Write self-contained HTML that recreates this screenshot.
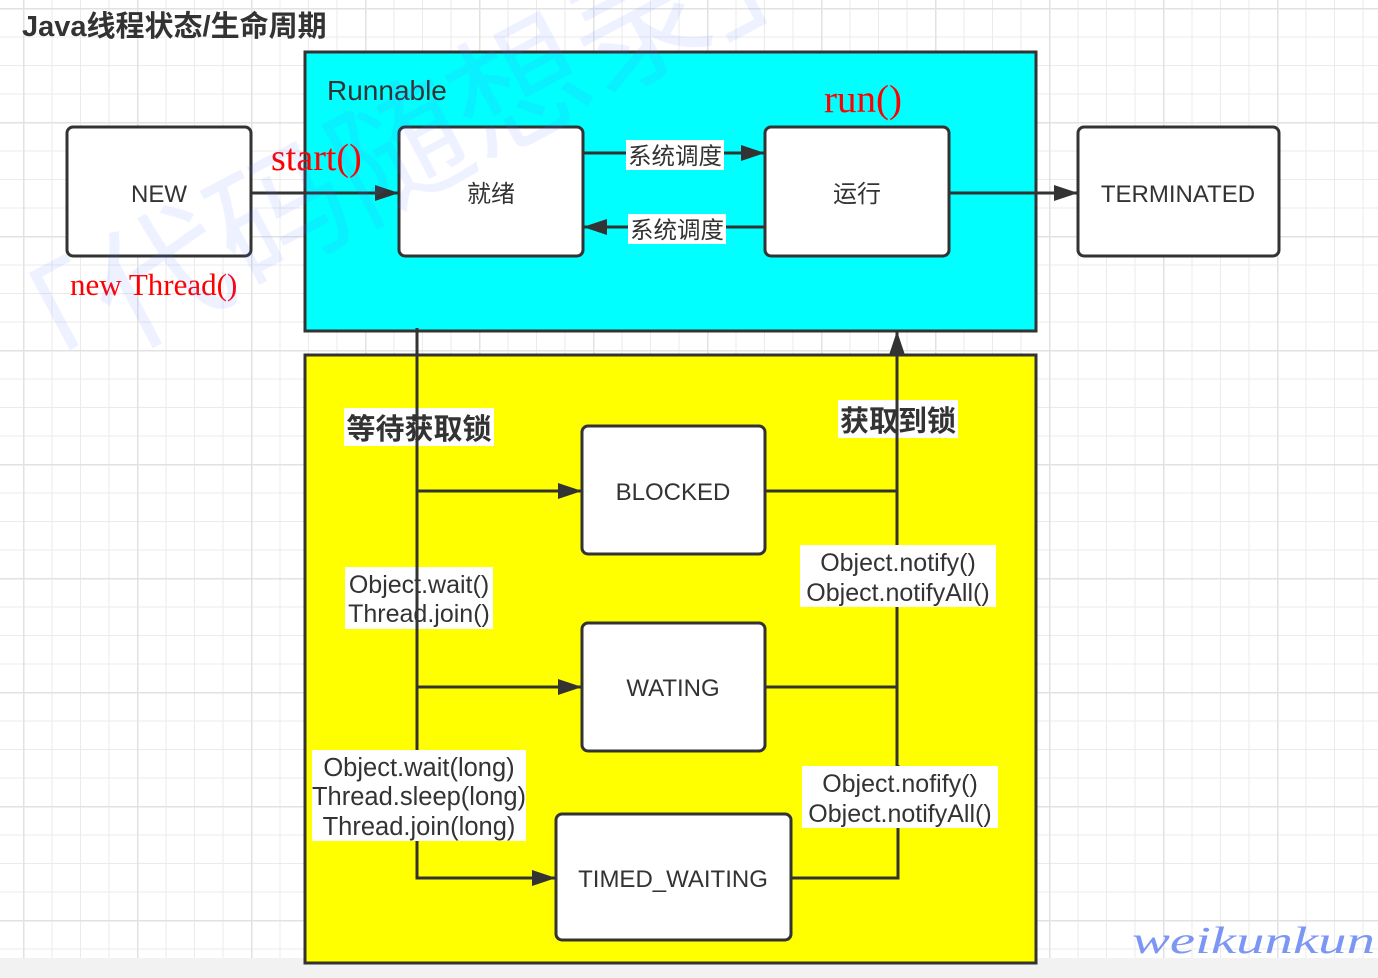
<!DOCTYPE html>
<html><head><meta charset="utf-8"><style>
html,body{margin:0;padding:0;background:#fff;}
svg{display:block;}
</style></head><body>
<svg width="1378" height="978" viewBox="0 0 1378 978" xmlns="http://www.w3.org/2000/svg">
<defs>
<pattern id="g" x="23" y="8" width="28.5" height="28.5" patternUnits="userSpaceOnUse">
<path d="M0 0H28.5M0 0V28.5" stroke="#ebebeb" stroke-width="2" fill="none"/>
</pattern>
<pattern id="g4" x="23" y="8" width="114" height="114" patternUnits="userSpaceOnUse">
<path d="M0 0H114M0 0V114" stroke="#e2e2e2" stroke-width="3" fill="none"/>
</pattern>
<marker id="a" markerWidth="24" markerHeight="16" refX="24" refY="8" orient="auto" markerUnits="userSpaceOnUse" viewBox="0 0 24 16">
<path d="M0 0L24 8L0 16z" fill="#333"/>
</marker>
</defs>
<rect width="1378" height="978" fill="#fff"/>
<rect width="1378" height="958" fill="url(#g)"/>
<rect width="1378" height="958" fill="url(#g4)"/>
<rect y="958" width="1378" height="20" fill="#f2f2f2"/>

<g font-family="Liberation Sans, Noto Sans CJK SC, sans-serif" fill="#333">
<text x="22" y="36" font-size="29" font-weight="bold">Java线程状态/生命周期</text>

<rect x="305" y="52" width="731" height="279" fill="#00ffff" stroke="#333" stroke-width="3"/>
<rect x="305" y="355" width="731" height="608" fill="#ffff00" stroke="#333" stroke-width="3"/>
<text x="327" y="100" font-size="28">Runnable</text>

<g fill="#fff" stroke="#333" stroke-width="3">
<rect x="67" y="127" width="184" height="129" rx="6"/>
<rect x="399" y="127" width="184" height="129" rx="6"/>
<rect x="765" y="127" width="184" height="129" rx="6"/>
<rect x="1078" y="127" width="201" height="129" rx="6"/>
<rect x="582" y="426" width="183" height="128" rx="6"/>
<rect x="582" y="623" width="183" height="128" rx="6"/>
<rect x="556" y="814" width="235" height="126" rx="6"/>
</g>
<g font-size="24" text-anchor="middle">
<text x="159" y="202">NEW</text>
<text x="491" y="202">就绪</text>
<text x="857" y="202">运行</text>
<text x="1178" y="202">TERMINATED</text>
<text x="673" y="500">BLOCKED</text>
<text x="673" y="696">WATING</text>
<text x="673" y="887">TIMED_WAITING</text>
</g>

<g fill="#fff">
<rect x="344" y="408" width="150" height="38"/>
<rect x="838" y="400" width="120" height="38"/>
<rect x="345" y="567" width="148" height="62"/>
</g>
<g text-anchor="middle">
<text x="419" y="439" font-size="29" font-weight="bold">等待获取锁</text>
<text x="898" y="431" font-size="29" font-weight="bold">获取到锁</text>
<text x="419" y="593" font-size="25">Object.wait()</text>
<text x="419" y="622" font-size="25">Thread.join()</text>
</g>

<g stroke="#333" stroke-width="3" fill="none">
<line x1="251" y1="193" x2="399" y2="193" marker-end="url(#a)"/>
<line x1="583" y1="153" x2="765" y2="153" marker-end="url(#a)"/>
<line x1="765" y1="227" x2="583" y2="227" marker-end="url(#a)"/>
<line x1="949" y1="193" x2="1078" y2="193" marker-end="url(#a)"/>
<polyline points="417,328 417,878 556,878" marker-end="url(#a)"/>
<line x1="417" y1="491" x2="582" y2="491" marker-end="url(#a)"/>
<line x1="417" y1="687" x2="582" y2="687" marker-end="url(#a)"/>
<line x1="765" y1="491" x2="897" y2="491"/>
<line x1="765" y1="687" x2="897" y2="687"/>
<polyline points="791,878 898,878 898,765"/>
<line x1="897" y1="766" x2="897" y2="331" marker-end="url(#a)"/>
</g>

<g fill="#fff">
<rect x="626" y="140" width="98" height="30"/>
<rect x="628" y="214" width="98" height="30"/>
<rect x="800" y="545" width="196" height="62"/>
<rect x="312" y="750" width="214" height="91"/>
<rect x="802" y="766" width="196" height="62"/>
</g>
<g text-anchor="middle">
<text x="675" y="164" font-size="23.5">系统调度</text>
<text x="677" y="238" font-size="23.5">系统调度</text>
<text x="898" y="571" font-size="25">Object.notify()</text>
<text x="898" y="601" font-size="25">Object.notifyAll()</text>
<text x="419" y="776" font-size="25.5">Object.wait(long)</text>
<text x="419" y="805" font-size="25.5">Thread.sleep(long)</text>
<text x="419" y="835" font-size="25.5">Thread.join(long)</text>
<text x="900" y="792" font-size="25">Object.nofify()</text>
<text x="900" y="822" font-size="25">Object.notifyAll()</text>
</g>

<g font-family="Liberation Serif, serif" fill="#ff0000">
<text x="271" y="170" font-size="38">start()</text>
<text x="824" y="112" font-size="39">run()</text>
<text x="70" y="295" font-size="31">new Thread()</text>
</g>

<text x="0" y="0" transform="translate(5,415) rotate(-28)" font-size="135" fill="#5a78ff" fill-opacity="0.1" font-family="Noto Sans CJK SC, sans-serif">「代码随想录」</text>

<text x="1132" y="953" font-family="Liberation Serif, serif" font-style="italic" font-size="38" fill="#5b7cf0" fill-opacity="0.8" textLength="243" lengthAdjust="spacingAndGlyphs">weikunkun</text>
</g>
</svg>
</body></html>
